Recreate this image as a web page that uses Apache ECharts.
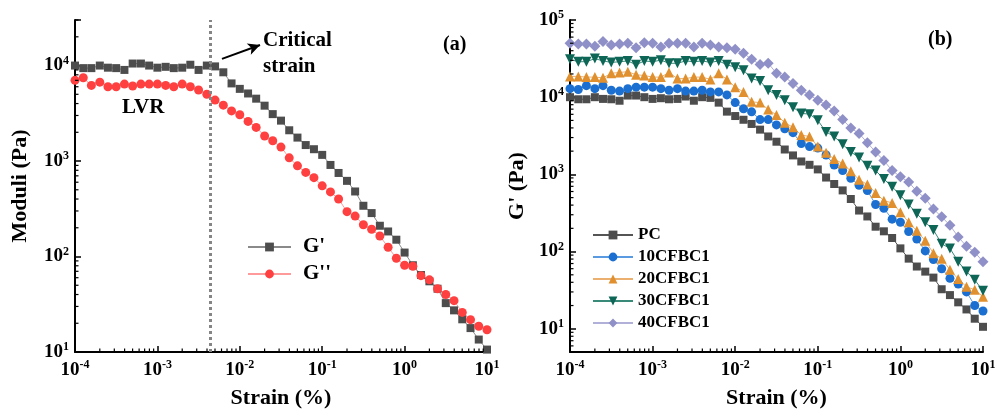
<!DOCTYPE html>
<html>
<head>
<meta charset="utf-8">
<script src="https://cdn.jsdelivr.net/npm/echarts@6/dist/echarts.min.js"></script>
<style>html,body{margin:0;padding:0;background:#fff}#c{width:995px;height:409px}</style>
</head>
<body>
<div id="c"></div>
<script>
// Strain (%) sampling points (10 per decade)
const strain = [0.0001, 0.000126, 0.000158, 0.0002, 0.000251, 0.000316, 0.000398, 0.000501, 0.000631, 0.000794,
  0.001, 0.00126, 0.00158, 0.002, 0.00251, 0.00316, 0.00398, 0.00501, 0.00631, 0.00794,
  0.01, 0.0126, 0.0158, 0.02, 0.0251, 0.0316, 0.0398, 0.0501, 0.0631, 0.0794,
  0.1, 0.126, 0.158, 0.2, 0.251, 0.316, 0.398, 0.501, 0.631, 0.794,
  1, 1.26, 1.58, 2, 2.51, 3.16, 3.98, 5.01, 6.31, 7.94, 10];

// Panel (a): PC storage / loss modulus (Pa)
const gPrime = [10000, 9400, 9400, 10000, 9500, 9400, 9000, 10500, 10500, 10000,
  9500, 9700, 9400, 9500, 10200, 9000, 10000, 9800, 8500, 6500,
  5700, 5100, 4500, 3800, 3100, 2650, 2100, 1760, 1470, 1330,
  1160, 910, 750, 620, 480, 340, 285, 210, 183, 150,
  110, 81, 64, 55, 46, 32.5, 27.3, 22, 17.8, 13.5, 10.6];
const gDouble = [7000, 7450, 6200, 6700, 6000, 6000, 6400, 6100, 6400, 6400,
  6400, 6200, 6000, 6400, 6000, 5550, 5000, 4350, 3850, 3350,
  3050, 2600, 2250, 1830, 1630, 1400, 1080, 890, 760, 670,
  550, 475, 400, 295, 265, 215, 193, 164, 125, 96,
  81, 79, 63, 57, 46, 40, 34.5, 26, 21.8, 18.6, 17.1];

// Panel (b): G' of composites (Pa)
const pc = gPrime;
const cf10 = [12900, 12600, 14100, 12900, 14100, 12300, 12000, 12900, 13500, 13500,
  13500, 12900, 12300, 12900, 12000, 12000, 12300, 11700, 11700, 10700,
  8510, 7080, 6460, 5130, 5130, 4370, 3890, 3470, 2510, 2290,
  2190, 1780, 1320, 1120, 891, 724, 617, 407, 363, 263,
  240, 182, 145, 102, 79, 60, 45, 38, 30, 20, 17];
const cf20 = [18600, 18600, 18200, 18200, 17800, 20400, 20900, 21400, 19500, 19100,
  18200, 18200, 20900, 17400, 17400, 18200, 18200, 17000, 20400, 17000,
  13500, 11700, 8710, 8510, 6920, 5890, 4680, 4070, 3240, 3090,
  2290, 1910, 1580, 1380, 1100, 851, 741, 575, 457, 427,
  324, 240, 186, 138, 95, 81, 58, 44, 35, 32, 26];
const cf30 = [30900, 28800, 28800, 31600, 29500, 28200, 28800, 29500, 26300, 29500,
  28800, 30200, 27500, 27500, 29500, 28800, 29500, 28200, 29500, 26300,
  24500, 22400, 17400, 16200, 12300, 10700, 9120, 7410, 6170, 6030,
  5010, 3550, 3090, 2450, 1950, 1660, 1290, 1120, 871, 692,
  537, 407, 309, 240, 191, 126, 110, 74, 55, 43, 31];
const cf40 = [49800, 49000, 49000, 45700, 52500, 47300, 49000, 50100, 43600, 50700,
  50100, 44700, 50100, 50100, 50100, 44700, 50100, 47300, 44700, 43600,
  41700, 37200, 30900, 26600, 27500, 20400, 18200, 15100, 12300, 10700,
  9120, 7940, 6610, 5130, 3980, 3390, 2570, 1950, 1510, 1120,
  933, 794, 603, 490, 355, 282, 219, 155, 117, 98, 74];

// Axis ranges
const xRange = [0.0001, 10];
const yRangeA = [10, 30000];
const yRangeB = [5, 100000];

// Annotation values
const criticalStrain = 0.00435;
const arrowFrom = [0.00608, 11750];
const arrowTo = [0.0176, 16400];

// Minor tick positions (log 2..9 within each decade)
const xMinorTicks = [];
[0.0001, 0.001, 0.01, 0.1, 1].forEach(d => { for (let k = 2; k <= 9; k++) xMinorTicks.push(d * k); });
const yMinorA = [];
[10, 100, 1000, 10000].forEach(d => { for (let k = 2; k <= 9; k++) if (d * k <= yRangeA[1]) yMinorA.push(d * k); });
const yMinorB = [];
[1, 10, 100, 1000, 10000].forEach(d => { for (let k = 2; k <= 9; k++) if (d * k >= yRangeB[0]) yMinorB.push(d * k); });

const FONT = "'Liberation Serif', 'Times New Roman', serif";

function pairs(ys) { return strain.map((x, i) => [x, ys[i]]); }

function powLabel(v) {
  const lg = Math.log10(v);
  const e = Math.round(lg);
  if (Math.abs(lg - e) > 1e-6) return '';
  return '{b|10}{s|' + e + '}';
}
const richLab = {
  b: { fontSize: 19, fontWeight: 'bold', fontFamily: FONT, color: '#000', lineHeight: 22 },
  s: { fontSize: 12, fontWeight: 'bold', fontFamily: FONT, color: '#000', verticalAlign: 'top', lineHeight: 12 }
};

function xAxisCfg(gi) {
  return {
    type: 'log', logBase: 10, gridIndex: gi, min: xRange[0], max: xRange[1],
    name: 'Strain (%)', nameLocation: 'middle', nameGap: 35,
    nameTextStyle: { fontSize: 22, fontWeight: 'bold', fontFamily: FONT, color: '#000' },
    axisLine: { show: true, lineStyle: { color: '#000', width: 2 } },
    axisTick: { show: true, inside: true, length: 6, lineStyle: { color: '#000', width: 1.5 } },
    axisLabel: { formatter: powLabel, rich: richLab, margin: 7, showMinLabel: true, showMaxLabel: true },
    splitLine: { show: false }
  };
}
function yAxisCfg(gi, range, name, gap) {
  return {
    type: 'log', logBase: 10, gridIndex: gi, min: range[0], max: range[1],
    name: name, nameLocation: 'middle', nameGap: gap,
    nameTextStyle: { fontSize: 22, fontWeight: 'bold', fontFamily: FONT, color: '#000' },
    axisLine: { show: true, lineStyle: { color: '#000', width: 2 } },
    axisTick: { show: true, inside: true, length: 6, lineStyle: { color: '#000', width: 1.5 } },
    axisLabel: { formatter: powLabel, rich: richLab, margin: 6 },
    splitLine: { show: false }
  };
}

function minorSeries(gi, yMin, yTicks) {
  const d = [];
  xMinorTicks.forEach(v => d.push([v, yMin, 0]));
  yTicks.forEach(v => d.push([xRange[0], v, 1]));
  return {
    type: 'custom', xAxisIndex: gi, yAxisIndex: gi, silent: true, z: 10,
    data: d, encode: { x: 0, y: 1 },
    renderItem: function (params, api) {
      const p = api.coord([api.value(0), api.value(1)]);
      const horiz = api.value(2) === 0;
      return {
        type: 'line',
        shape: horiz ? { x1: p[0], y1: p[1], x2: p[0], y2: p[1] - 3.5 } : { x1: p[0], y1: p[1], x2: p[0] + 3.5, y2: p[1] },
        style: { stroke: '#000', lineWidth: 1.2 }
      };
    }
  };
}

function lineSeries(name, gi, ys, sym, size, color, lineColor) {
  return {
    name: name, type: 'line', xAxisIndex: gi, yAxisIndex: gi,
    data: pairs(ys), symbol: sym, symbolSize: size, showAllSymbol: true,
    itemStyle: { color: color },
    lineStyle: { color: lineColor, width: 1 },
    emphasis: { disabled: true }, animation: false, z: 3
  };
}

const sGp = lineSeries("G'", 0, gPrime, 'rect', 8, '#4d4d4d', '#8a8a8a');
sGp.markLine = {
  silent: true, symbol: 'none', animation: false,
  label: { show: false },
  data: [
    [ { coord: [criticalStrain, yRangeA[0]], symbol: 'none', lineStyle: { color: '#858585', width: 3, type: [3, 3] } },
      { coord: [criticalStrain, yRangeA[1]], symbol: 'none' } ],
    [ { coord: arrowFrom, symbol: 'none', lineStyle: { color: '#000', width: 2, type: 'solid' } },
      { coord: arrowTo, symbol: 'arrow', symbolSize: [9, 12] } ]
  ]
};
const sGpp = lineSeries("G''", 0, gDouble, 'circle', 9, '#ff4040', '#ff9a9a');

const legendText = (size, lh, pad) => ({ fontSize: size, fontWeight: 'bold', fontFamily: FONT, color: '#000', lineHeight: lh, padding: pad });

const option = {
  backgroundColor: '#fff',
  animation: false,
  grid: [
    { left: 75, right: 508, top: 20, bottom: 57, containLabel: false, outerBoundsMode: 'none' },
    { left: 570, right: 12, top: 20, bottom: 57, containLabel: false, outerBoundsMode: 'none' }
  ],
  xAxis: [xAxisCfg(0), xAxisCfg(1)],
  yAxis: [yAxisCfg(0, yRangeA, 'Moduli (Pa)', 44), yAxisCfg(1, yRangeB, "G' (Pa)", 42)],
  legend: [
    { data: ["G'", "G''"], orient: 'vertical', left: 247, top: 236, padding: 0, itemWidth: 43, itemHeight: 11, itemGap: 5,
      textStyle: legendText(21, 22, [0, 0, 0, 7]), selectedMode: false },
    { data: ['PC', '10CFBC1', '20CFBC1', '30CFBC1', '40CFBC1'], orient: 'vertical', left: 592, top: 226, padding: 0,
      itemWidth: 40, itemHeight: 11, itemGap: 4, textStyle: legendText(17, 18, [0, 0, 0, 0]), selectedMode: false }
  ],
  graphic: [
    { type: 'text', left: 263, top: 30, style: { text: 'Critical', font: 'bold 21px ' + FONT, fill: '#000' } },
    { type: 'text', left: 263, top: 56, style: { text: 'strain', font: 'bold 21px ' + FONT, fill: '#000' } },
    { type: 'text', left: 122, top: 97, style: { text: 'LVR', font: 'bold 21px ' + FONT, fill: '#000' } },
    { type: 'text', left: 443, top: 35, style: { text: '(a)', font: 'bold 20px ' + FONT, fill: '#000' } },
    { type: 'text', left: 928, top: 30, style: { text: '(b)', font: 'bold 20px ' + FONT, fill: '#000' } }
  ],
  series: [
    sGp, sGpp,
    lineSeries('PC', 1, pc, 'rect', 8, '#4d4d4d', '#555555'),
    lineSeries('10CFBC1', 1, cf10, 'circle', 9, '#1a6fd0', '#5a9ae0'),
    lineSeries('20CFBC1', 1, cf20, 'triangle', 10, '#e0902e', '#ebb070'),
    lineSeries('30CFBC1', 1, cf30, 'path://M0,0 L10,0 L5,9 Z', 10, '#0d6656', '#3a8a7a'),
    lineSeries('40CFBC1', 1, cf40, 'diamond', 11, '#9090c8', '#b0b0d8'),
    minorSeries(0, yRangeA[0], yMinorA),
    minorSeries(1, yRangeB[0], yMinorB)
  ]
};

const chart = echarts.init(document.getElementById('c'), null, { renderer: 'canvas' });
chart.setOption(option);
</script>
</body>
</html>
